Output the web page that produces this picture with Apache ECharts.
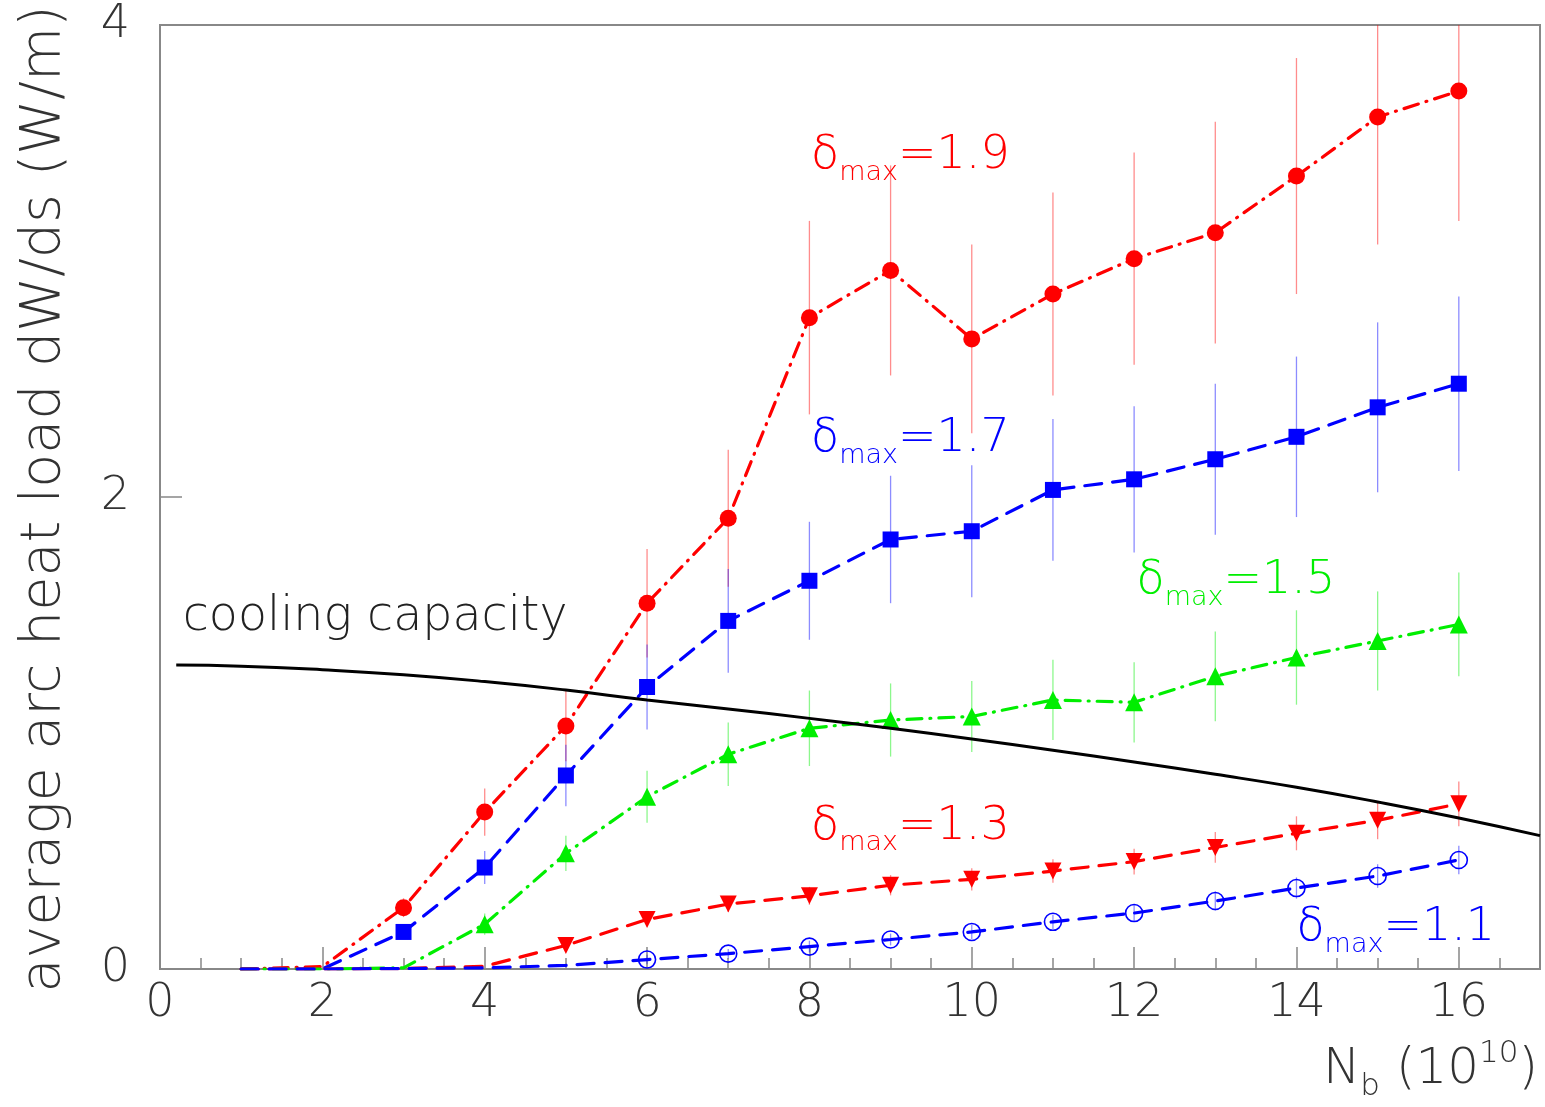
<!DOCTYPE html>
<html>
<head>
<meta charset="utf-8">
<script src="https://cdn.jsdelivr.net/npm/echarts@6/dist/echarts.min.js"></script>
<style>
html,body{margin:0;padding:0;background:#fff;}
#chart{width:1545px;height:1107px;}
</style>
</head>
<body>
<div id="chart"></div>
<script>
// ---- data ----
const nb = [1, 2, 3, 4, 5, 6, 7, 8, 9, 10, 11, 12, 13, 14, 15, 16];

const d19 = [0, 0.01, 0.26, 0.665, 1.03, 1.55, 1.91, 2.76, 2.96, 2.67, 2.86, 3.01, 3.12, 3.36, 3.61, 3.72];
const e19 = [0, 0, 0.04, 0.1, 0.15, 0.23, 0.29, 0.41, 0.445, 0.40, 0.43, 0.45, 0.47, 0.50, 0.54, 0.55];

const d17 = [0, 0, 0.157, 0.43, 0.82, 1.195, 1.475, 1.645, 1.82, 1.855, 2.03, 2.075, 2.16, 2.255, 2.38, 2.48];
const e17 = [0, 0, 0.03, 0.07, 0.13, 0.18, 0.22, 0.25, 0.27, 0.28, 0.30, 0.31, 0.32, 0.34, 0.36, 0.37];

const d15 = [0, 0, 0.005, 0.19, 0.49, 0.73, 0.91, 1.02, 1.055, 1.07, 1.14, 1.13, 1.24, 1.32, 1.39, 1.46];
const e15 = [0, 0, 0, 0.045, 0.075, 0.11, 0.135, 0.16, 0.155, 0.15, 0.17, 0.17, 0.19, 0.20, 0.21, 0.22];

const d13 = [0, 0, 0.002, 0.012, 0.1, 0.21, 0.275, 0.31, 0.355, 0.38, 0.415, 0.455, 0.515, 0.575, 0.63, 0.70];
const e13 = [0, 0, 0, 0, 0.02, 0.03, 0.034, 0.038, 0.043, 0.047, 0.05, 0.055, 0.065, 0.072, 0.08, 0.095];

const d11 = [0, 0, 0.002, 0.005, 0.015, 0.04, 0.065, 0.095, 0.125, 0.157, 0.2, 0.237, 0.288, 0.343, 0.394, 0.462];
const e11 = [0, 0, 0, 0, 0, 0.02, 0.02, 0.025, 0.025, 0.03, 0.03, 0.035, 0.04, 0.045, 0.05, 0.06];

const coolX = [0.2, 1, 2, 3, 4, 5, 6, 7, 8, 9, 10, 11, 12, 13, 14, 15, 16, 17];
const coolY = [1.288, 1.283, 1.268, 1.247, 1.218, 1.182, 1.14, 1.102, 1.062, 1.02, 0.975, 0.927, 0.877, 0.825, 0.77, 0.708, 0.64, 0.565];

const xTicks = [0, 2, 4, 6, 8, 10, 12, 14, 16];
const yTicks = [0, 2, 4];

// label texts and anchors (data units)
const labels = [
  {val: '1.9', color: '#ff0000', at: [8.02, 3.443]},
  {val: '1.7', color: '#0000ff', at: [8.02, 2.245]},
  {val: '1.5', color: '#00ee00', at: [12.03, 1.643]},
  {val: '1.3', color: '#ff0000', at: [8.02, 0.603]},
  {val: '1.1', color: '#0000ff', at: [14.0, 0.172]}
];
const coolLabel = {text: 'cooling capacity', at: [0.28, 1.49]};

// ---- chart ----
const FONT = '"DejaVu Sans", sans-serif';
const W = 200;
const chart = echarts.init(document.getElementById('chart'));

function pairs(xs, ys) { return xs.map((x, i) => [x, ys[i]]); }
function lineData(ys, markFrom) {
  return nb.map((x, i) => x >= markFrom ? [x, ys[i]] : {value: [x, ys[i]], symbol: 'none'});
}
function errData(ys, es) { return nb.map((x, i) => [x, ys[i], es[i]]).filter(d => d[2] > 0); }

function errSeries(ys, es, color) {
  return {
    type: 'custom', clip: true, silent: true, z: 2,
    data: errData(ys, es),
    renderItem: function (params, api) {
      const x = api.value(0), y = api.value(1), e = api.value(2);
      const p1 = api.coord([x, y - e]);
      const p2 = api.coord([x, y + e]);
      return {type: 'line', shape: {x1: p1[0], y1: p1[1], x2: p2[0], y2: p2[1]},
              style: {stroke: color, lineWidth: 1.3, opacity: 0.45}};
    }
  };
}
function lineSeries(ys, markFrom, color, dash, symbol, size, hollow) {
  return {
    type: 'line', z: 3, data: lineData(ys, markFrom),
    symbol: symbol, symbolSize: size, showSymbol: true,
    lineStyle: {color: color, width: 3.2, type: dash, cap: 'round'},
    itemStyle: hollow ? {color: 'rgba(255,255,255,0)', borderColor: color, borderWidth: 1.6}
                      : {color: color, borderWidth: 0},
    emphasis: {disabled: true}, animation: false
  };
}

const dashDot = [15, 8, 1, 8];
const dashed = [17, 11];

chart.setOption({
  animation: false,
  backgroundColor: '#fff',
  grid: {left: 160, top: 25, right: 5, bottom: 138, show: true, borderColor: '#888', borderWidth: 2, containLabel: false},
  xAxis: [{
    type: 'value', min: 0, max: 17, interval: 2,
    axisLine: {lineStyle: {color: '#888', width: 2}},
    axisTick: {inside: true, length: 22, lineStyle: {color: '#888', width: 1.5}},
    axisLabel: {fontFamily: FONT, fontWeight: W, fontSize: 46, color: '#333', margin: 12, showMaxLabel: false,
                formatter: v => xTicks.indexOf(v) >= 0 ? String(v) : ''},
    splitLine: {show: false}
  }, {
    type: 'value', min: 0, max: 17, interval: 0.5, position: 'bottom',
    axisLine: {show: false},
    axisTick: {inside: true, length: 11, lineStyle: {color: '#888', width: 1.5}},
    axisLabel: {show: false}, splitLine: {show: false}
  }],
  yAxis: {
    type: 'value', min: 0, max: 4, interval: 2,
    name: 'average arc heat load dW/ds (W/m)', nameLocation: 'middle', nameGap: 87,
    nameTextStyle: {fontFamily: FONT, fontWeight: W, fontSize: 55.5, color: '#333', padding: [0, 4, 0, 0]},
    axisLine: {lineStyle: {color: '#888', width: 2}},
    axisTick: {inside: true, length: 22, lineStyle: {color: '#888', width: 1.5}},
    axisLabel: {fontFamily: FONT, fontWeight: W, fontSize: 46, color: '#333', margin: 30,
                formatter: v => yTicks.indexOf(v) >= 0 ? String(v) : ''},
    splitLine: {show: false}
  },
  series: [
    errSeries(d19, e19, '#ff0000'),
    errSeries(d17, e17, '#0000ff'),
    errSeries(d15, e15, '#00ee00'),
    errSeries(d13, e13, '#ff0000'),
    errSeries(d11, e11, '#0000ff'),
    {type: 'line', z: 4, data: pairs(coolX, coolY), smooth: true, symbol: 'none',
     lineStyle: {color: '#000', width: 3}},
    lineSeries(d19, 3, '#ff0000', dashDot, 'circle', 17, false),
    lineSeries(d17, 3, '#0000ff', dashed, 'rect', 16, false),
    lineSeries(d15, 4, '#00ee00', dashDot, 'triangle', 18, false),
    lineSeries(d13, 5, '#ff0000', dashed, 'path://M0,0 L10,0 L5,9 Z', 17, false),
    lineSeries(d11, 6, '#0000ff', dashed, 'circle', 17, true)
  ]
});

// annotations anchored at data coordinates
const graphics = [];
labels.forEach(l => {
  const p = chart.convertToPixel({gridIndex: 0}, l.at);
  graphics.push({
    type: 'text', x: p[0], y: p[1], z: 10,
    style: {
      text: '{d|δ}{s|max}{e|=' + l.val + '}',
      align: 'left', verticalAlign: 'middle',
      rich: {
        d: {fontFamily: FONT, fontSize: 46, lineHeight: 60, verticalAlign: 'middle', fill: l.color, fontWeight: W},
        s: {fontFamily: FONT, fontSize: 27, lineHeight: 27, verticalAlign: 'bottom', fill: l.color, fontWeight: W},
        e: {fontFamily: FONT, fontSize: 46, lineHeight: 60, verticalAlign: 'middle', fill: l.color, fontWeight: W}
      }
    }
  });
});
const cp = chart.convertToPixel({gridIndex: 0}, coolLabel.at);
graphics.push({
  type: 'text', x: cp[0], y: cp[1], z: 10,
  style: {text: coolLabel.text, fontFamily: FONT, fontSize: 47.5, fill: '#222', align: 'left', verticalAlign: 'middle', fontWeight: W}
});
graphics.push({
  type: 'text', right: 7, top: 1038, z: 10,
  style: {
    text: '{n|N}{b|b}{n| (10}{p|10}{n|)}',
    rich: {
      n: {fontFamily: FONT, fontSize: 50, lineHeight: 64, verticalAlign: 'middle', fill: '#333', fontWeight: W},
      b: {fontFamily: FONT, fontSize: 31, lineHeight: 31, verticalAlign: 'bottom', fill: '#333', fontWeight: W},
      p: {fontFamily: FONT, fontSize: 31, lineHeight: 31, verticalAlign: 'top', fill: '#333', fontWeight: W}
    }
  }
});
chart.setOption({graphic: graphics});
</script>
</body>
</html>
